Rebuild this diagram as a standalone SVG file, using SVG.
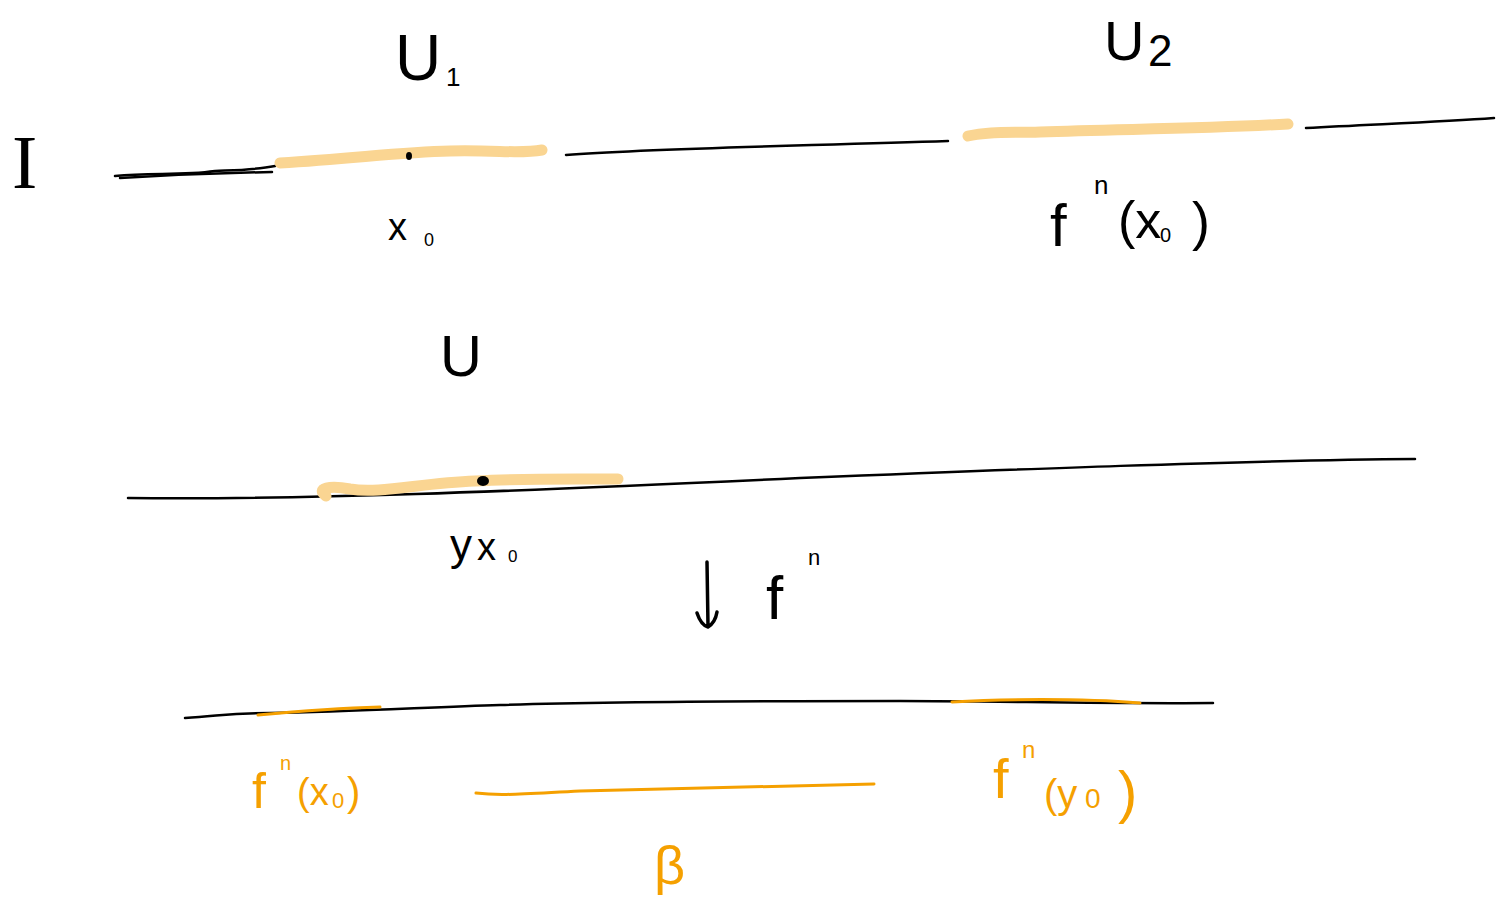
<svg xmlns="http://www.w3.org/2000/svg" width="1505" height="898" viewBox="0 0 1505 898">
<style>
.ink{fill:none;stroke:#000;stroke-width:2.5;stroke-linecap:round;stroke-linejoin:round}
.hl{fill:none;stroke:#FAD592;stroke-width:11;stroke-linecap:round;stroke-linejoin:round}
.or{fill:none;stroke:#F5A000;stroke-width:3;stroke-linecap:round;stroke-linejoin:round}
.t{font-family:"Liberation Sans",Arial,sans-serif;fill:#000}
.to{font-family:"Liberation Sans",Arial,sans-serif;fill:#F5A000}
</style>
<rect width="1505" height="898" fill="#fff"/>
<g id="connectors">
  <path class="ink" d="M115,176 C150,172 180,176 215,171 C240,170 255,170 275,166"/>
  <path class="ink" d="M120,178 C170,175 220,173 272,172"/>
  <path class="hl" d="M280,163 C360,158 400,152 450,151 C500,150 520,154 542,150"/>
  <path class="ink" d="M566,155 C650,148 800,146 948,141"/>
  <path class="hl" d="M968,136 C990,131 1010,133 1040,132 C1120,129 1200,129 1288,124"/>
  <path class="ink" d="M1306,128 C1380,124 1440,122 1494,118"/>
  <path class="ink" d="M128,498 C300,500 500,492 800,478 C1000,470 1250,460 1415,459"/>
  <path class="hl" d="M326,496 C315,488 330,485 350,489 C380,494 420,483 475,481 C530,478 580,479 618,479"/>
  <path class="ink" d="M185,718 C220,716 230,713 270,713 C350,712 430,707 500,705 C600,702 700,701 900,701 C1000,701 1100,704 1213,703"/>
  <path class="or" d="M258,715 C300,711 340,708 380,707"/>
  <path class="or" d="M952,702 C1000,699 1080,698 1140,703"/>
  <path class="or" d="M476,793 C500,796 520,794 580,791 C680,788 780,786 874,784"/>
  <path class="ink" d="M707,562 L708,626 M697,613 C700,622 704,626 708,627 C713,624 716,618 717,612" style="stroke-width:3.5"/>
</g>
<g id="U1"><text class="t" x="395" y="80" font-size="64">U</text><text class="t" x="446" y="86" font-size="26">1</text></g>
<g id="U2"><text class="t" x="1104" y="60" font-size="56">U</text><text class="t" x="1148" y="66" font-size="44">2</text></g>
<g id="I"><text x="12" y="188" font-size="76" font-family="'Liberation Serif',serif">I</text></g>
<g id="x0dot"><ellipse cx="409" cy="156" rx="3" ry="4" fill="#000"/></g>
<g id="x0label"><text class="t" x="388" y="240" font-size="38">x</text><text class="t" x="424" y="246" font-size="18">0</text></g>
<g id="fnx0top"><text class="t" font-size="60"><tspan x="1050" y="246">f</tspan><tspan x="1094" y="194" font-size="26">n</tspan><tspan x="1118" y="238" font-size="52">(x</tspan><tspan x="1160" y="242" font-size="20">0</tspan><tspan x="1192" y="240" font-size="54">)</tspan></text></g>
<g id="U"><text class="t" x="440" y="376" font-size="58">U</text></g>
<g id="ydot"><ellipse cx="483" cy="481" rx="6" ry="5" fill="#000"/></g>
<g id="yx0label"><text class="t" x="450" y="560" font-size="44">y</text><text class="t" x="477" y="560" font-size="38">x</text><text class="t" x="508" y="562" font-size="17">0</text></g>
<g id="fnlabel"><text class="t" x="766" y="619" font-size="62">f</text><text class="t" x="808" y="565" font-size="22">n</text></g>
<g id="fnx0bot"><text class="to" font-size="50"><tspan x="252" y="808">f</tspan><tspan x="280" y="770" font-size="20">n</tspan><tspan x="297" y="805" font-size="38">(x</tspan><tspan x="332" y="808" font-size="22">0</tspan><tspan x="347" y="806" font-size="40">)</tspan></text></g>
<g id="fny0"><text class="to" font-size="56"><tspan x="993" y="798">f</tspan><tspan x="1022" y="758" font-size="24">n</tspan><tspan x="1044" y="808" font-size="40">(y</tspan><tspan x="1085" y="808" font-size="28">0</tspan><tspan x="1118" y="812" font-size="58">)</tspan></text></g>
<g id="beta"><text class="to" x="654" y="884" font-size="54">β</text></g>
</svg>
